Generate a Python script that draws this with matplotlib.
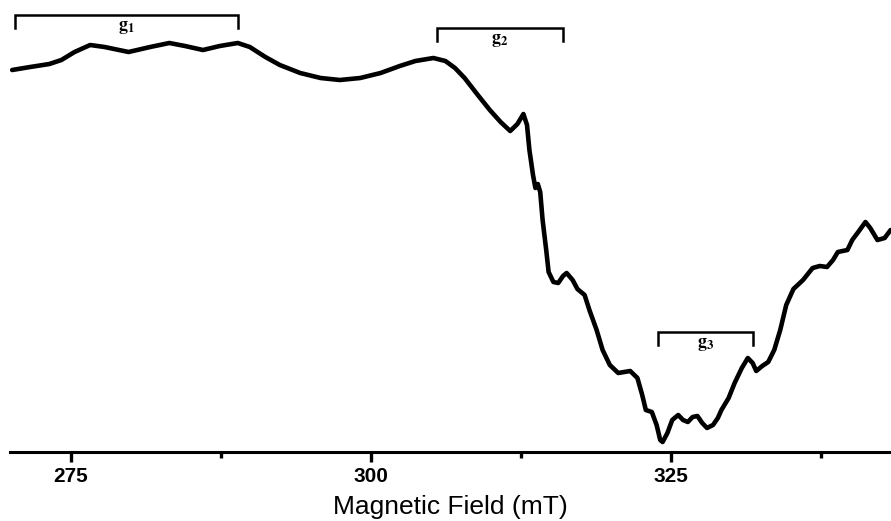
# -*- coding: utf-8 -*-

import matplotlib
matplotlib.use("Agg")
import matplotlib.pyplot as plt
from matplotlib.ticker import FixedLocator

# plotting parameters
matplotlib.rcParams["font.family"] = ["Liberation Sans", "DejaVu Sans"]
matplotlib.rcParams["mathtext.fontset"] = "stix"

# spectrum (field in mT, intensity in arb. units)
field = [270.1, 271.6, 273.2, 274.2, 275.3, 276.6, 277.8, 279.8, 281.6, 283.2,
         284.5, 286.0, 287.4, 288.9, 289.9, 291.2, 292.4, 294.1, 295.8, 297.4,
         299.1, 300.8, 302.4, 303.7, 305.2, 306.2, 307.0, 307.8, 308.9, 309.9,
         310.8, 311.6, 312.2, 312.7, 313.0, 313.2, 313.5, 313.7, 313.9, 314.1,
         314.3, 314.6, 314.8, 315.2, 315.6, 316.0, 316.3, 316.8, 317.2, 317.8,
         318.2, 318.8, 319.3, 319.9, 320.6, 321.6, 322.2, 322.6, 322.9, 323.4,
         323.8, 324.1, 324.3, 324.7, 325.1, 325.6, 326.0, 326.4, 326.8, 327.2,
         327.6, 328.0, 328.5, 328.9, 329.2, 329.8, 330.3, 330.9, 331.4, 331.8,
         332.1, 332.6, 333.1, 333.6, 334.1, 334.6, 335.2, 336.0, 336.8, 337.4,
         338.0, 338.5, 338.9, 339.7, 340.1, 340.6, 341.2, 341.6, 342.2, 342.8,
         343.3]
intensity = [382, 385, 388, 392, 400, 407, 405, 400, 405, 409,
             406, 402, 406, 409, 405, 395, 387, 379, 374, 372,
             374, 379, 386, 391, 394, 391, 384, 374, 357, 342,
             330, 321, 328, 338, 327, 302, 277, 264, 268, 260,
             232, 202, 180, 170, 169, 176, 179, 172, 163, 157,
             142, 122, 102, 87, 79, 81, 74, 57, 42, 40,
             27, 12, 10, 19, 32, 37, 32, 30, 35, 36,
             29, 24, 27, 34, 42, 54, 69, 84, 94, 89,
             81, 86, 90, 102, 122, 147, 163, 172, 184, 186,
             185, 192, 200, 202, 212, 220, 230, 224, 212, 214,
             222]

# g-value brackets: label, start, end, height
g_labels = ["1", "2", "3"]
g_start = [270.3, 305.5, 323.9]
g_end = [288.9, 316.0, 331.8]
g_level = [437, 424, 120]

major_ticks = [275, 300, 325]
minor_ticks = [287.5, 312.5, 337.5]

fig = plt.figure(figsize=(8.91, 5.21), dpi=100)
ax = fig.add_axes([10 / 891, 69 / 521, 881 / 891, 452 / 521])

ax.plot(field, intensity, color="black", linewidth=3.3,
        solid_joinstyle="round", solid_capstyle="round")

for lab, x0, x1, y in zip(g_labels, g_start, g_end, g_level):
    ax.plot([x0, x0, x1, x1], [y - 13, y, y, y - 13], color="black",
            linewidth=1.8, solid_joinstyle="miter")
    ax.text((x0 + x1) / 2, y - 4, r"$\mathbf{g}_{\mathbf{" + lab + "}}$",
            ha="center", va="top", fontsize=13)

ax.set_xlim(269.92, 343.33)
ax.set_ylim(0, 452)

for side in ["top", "right", "left"]:
    ax.spines[side].set_visible(False)
ax.spines["bottom"].set_linewidth(2.2)
ax.set_yticks([])

ax.xaxis.set_major_locator(FixedLocator(major_ticks))
ax.xaxis.set_minor_locator(FixedLocator(minor_ticks))
ax.tick_params(axis="x", which="major", direction="out", length=7,
               width=2.4, pad=4, labelsize=15)
ax.tick_params(axis="x", which="minor", direction="out", length=4, width=2.4)
for lbl in ax.get_xticklabels():
    lbl.set_fontweight("bold")

ax.set_xlabel("Magnetic Field (mT)", fontsize=19, labelpad=6)

fig.savefig("out.png", dpi=100)
